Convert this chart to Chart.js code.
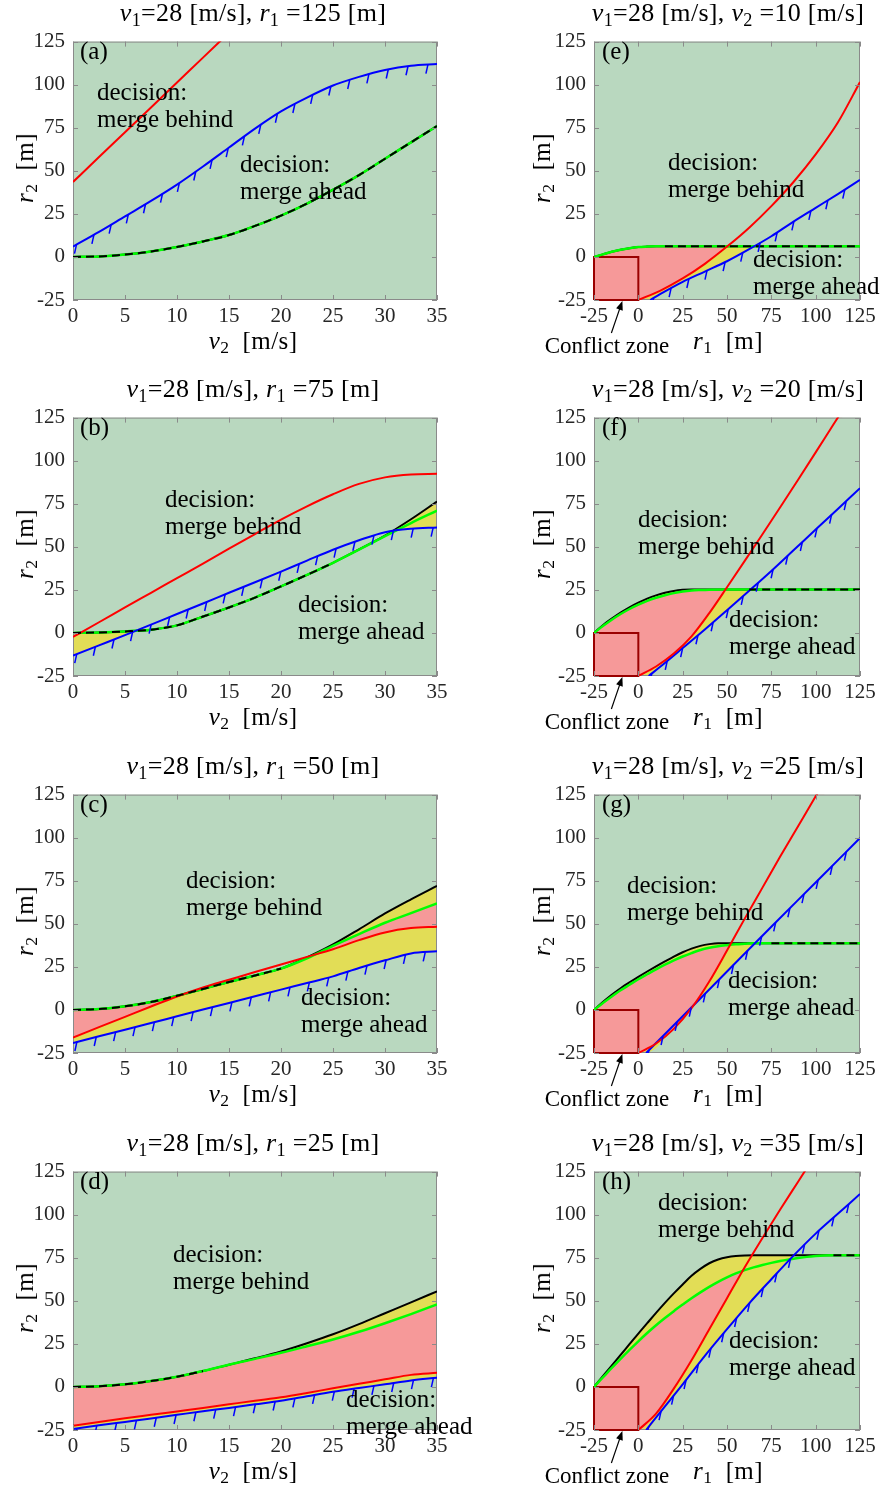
<!DOCTYPE html>
<html>
<head>
<meta charset="utf-8">
<script src="https://cdn.jsdelivr.net/npm/chart.js@4.4.1/dist/chart.umd.min.js"></script>
<style>
  body { margin: 0; background: #fff; }
  #page { position: relative; width: 884px; height: 1491px; overflow: hidden;
          font-family: 'Liberation Serif', 'Times New Roman', serif; color: #000; }
  canvas { position: absolute; }
  .t { position: absolute; white-space: nowrap; }
  .title { font-size: 26px; line-height: 26px; letter-spacing: 0.3px; }
  .xlab, .ylab { font-size: 25px; line-height: 26px; letter-spacing: 0.4px; }
  .ann, .letter { font-size: 25px; line-height: 27px; }
  .cz { font-size: 23px; line-height: 26px; }
  sub { font-size: 70%; vertical-align: -0.25em; line-height: 0; }
</style>
</head>
<body>
<div id="page"></div>
<script>
// ---- data -------------------------------------------------------------
const v1 = 28;
const r1Values = [125, 75, 50, 25];     // left column titles
const v2Values = [10, 20, 25, 35];      // right column titles
const v2Ticks = [0, 5, 10, 15, 20, 25, 30, 35];
const r1Ticks = [-25, 0, 25, 50, 75, 100, 125];
const r2Ticks = [-25, 0, 25, 50, 75, 100, 125];
const zoneR1 = [-25, 0];
const zoneR2 = [-25, 0];

// left column: r2 read at these v2 values
const v2Grid = [0, 2.5, 5, 7.5, 10, 12.5, 15, 17.5, 20, 22.5, 25, 27.5, 30, 32.5, 35];

const aRed   = [43.5, 58, 72.4, 86.8, 101.3, 115.7, 130.2];
const aBlue  = [6, 14.5, 23.5, 32.5, 42, 52.5, 63.5, 74.5, 84.5, 92.5, 99.5, 104.5, 108.5, 111, 112];
const aBlack = [0, 0.3, 1.4, 3.2, 5.8, 9, 12.7, 18, 24, 31, 39, 47.5, 57, 66.5, 76];
const aGreen = [0, 0.3, 1.4, 3.2, 5.8, 9, 12.7, 18, 24, 31, 39, 47.5, 57, 66.5, 76];

const bRed   = [-2.3, 6.2, 14.8, 23.3, 31.8, 40.3, 48.9, 57.4, 65.8, 73.5, 80.5, 86.5, 90.3, 92, 92.4];
const bBlue  = [-13.1, -7.2, -1.3, 4.8, 11, 17.1, 23.3, 29.4, 35.6, 42, 48.3, 53.8, 58.5, 60.5, 61.2];
const bBlack = [0, 0.3, 0.9, 1.9, 4.4, 9.5, 14.8, 20.5, 27, 33.7, 40.7, 48.5, 56.5, 66, 76.3];
const bGreen = [0, 0.3, 0.9, 1.9, 4.4, 9.5, 14.8, 20.5, 27, 33.7, 40.7, 48.3, 56.2, 63.8, 71];

const cRed   = [-16, -10, -4, 2, 7.8, 13, 17.5, 22, 26.4, 30.8, 35.2, 40.5, 45, 47.5, 48.3];
const cBlue  = [-19.2, -15.3, -11.5, -7.6, -3.7, 0.2, 4, 7.9, 11.8, 15.6, 19.5, 24.3, 28.8, 32.8, 34];
const cBlack = [0, 0.5, 2.1, 4.6, 8.2, 12.2, 16.2, 20, 24, 30.5, 38, 46.8, 56, 64.2, 72];
const cGreen = [0, 0.5, 2.1, 4.6, 8.2, 12.2, 16.2, 20, 24, 30, 37.2, 44, 50.6, 56.2, 61.9];

const dRed   = [-22.5, -20.3, -18.2, -16.2, -14.2, -12.2, -10.1, -8, -6, -3.5, -0.8, 1.8, 4.4, 7, 8.2];
const dBlue  = [-24.4, -22.3, -20.3, -18.3, -16.2, -14.1, -12.2, -10.1, -8, -5.4, -2.8, -0.6, 1.5, 3.8, 5.3];
const dBlack = [0, 0.4, 1.5, 3.4, 5.9, 9.2, 12.9, 16.6, 20.6, 25.4, 30.6, 36.5, 42.8, 49.1, 55.5];
const dGreen = [0, 0.4, 1.5, 3.4, 5.9, 9.2, 12.9, 16.3, 19.8, 23.6, 27.5, 32, 37, 42.3, 47.9];

// right column: [r1, r2] pairs
const eGreen = [[-25, 0], [-20, 1.5], [-15, 3], [-10, 4.2], [-5, 5.1], [0, 5.7], [5, 6], [10, 6.2], [15, 6.2], [50, 6.2], [87.5, 6.2], [125, 6.2]];
const eBlack = eGreen; // both curves coincide in (e)
const eRed   = [[0, -25], [12.5, -19.5], [25, -12.5], [37.5, -4], [50, 6], [62.5, 17], [75, 29.5], [87.5, 43.5], [100, 59.5], [112.5, 78], [125, 101.5]];
const eBlue  = [[6.7, -25], [12.5, -21.5], [25, -14.5], [37.5, -8.5], [50, -2.5], [62.5, 4.5], [75, 12], [87.5, 20.5], [100, 28.5], [112.5, 36.5], [125, 44.7]];

const fBlack = [[-25, 0], [-20, 4.5], [-15, 8.3], [-10, 11.8], [-5, 14.9], [0, 17.6], [5, 19.9], [10, 21.8], [15, 23.3], [20, 24.4], [25, 25], [30, 25.2], [40, 25.2], [62.5, 25.2], [87.5, 25.2], [125, 25.2]];
const fGreen = [[-25, 0], [-20, 4], [-15, 7.7], [-10, 11], [-5, 13.9], [0, 16.4], [5, 18.6], [10, 20.4], [15, 21.9], [20, 23.1], [25, 24], [30, 24.6], [35, 24.9], [40, 25.1], [50, 25.2], [87.5, 25.2], [125, 25.2]];
const fRed   = [[0, -25], [10, -19.5], [20, -12], [30, -2], [40, 11.5], [50, 26.5], [60, 41.8], [70, 57.3], [80, 73], [90, 88.8], [100, 104.8], [110, 121], [115, 129]];
const fBlue  = [[5.8, -25], [12.5, -19.5], [25, -8.8], [37.5, 2], [50, 13.2], [62.5, 24.5], [75, 36], [87.5, 48], [100, 60], [112.5, 72], [125, 84]];

const gBlack = [[-25, 0], [-20, 4.6], [-15, 8.8], [-10, 12.6], [-5, 16], [0, 19.2], [5, 22.3], [10, 25.3], [15, 28.2], [20, 31], [25, 33.5], [30, 35.6], [35, 37.2], [40, 38.2], [45, 38.7], [75, 38.7], [100, 38.7], [125, 38.7]];
const gGreen = [[-25, 0], [-20, 4], [-15, 7.8], [-10, 11.4], [-5, 14.6], [0, 17.8], [5, 20.7], [10, 23.6], [15, 26.3], [20, 28.8], [25, 31], [30, 33], [35, 34.8], [40, 36.1], [45, 37], [50, 37.6], [55, 38.1], [60, 38.4], [65, 38.7], [100, 38.7], [125, 38.7]];
const gRed   = [[0, -25], [10, -19.5], [20, -11], [30, 1], [40, 16.5], [50, 34.5], [60, 53], [70, 71], [80, 89], [90, 106.5], [100, 124], [105, 132.5]];
const gBlue  = [[4.4, -25], [25, -3.7], [50, 22.3], [75, 48.3], [100, 74], [125, 99.8]];

const hBlack = [[-25, 0], [-20, 6.2], [-15, 12.4], [-10, 18.6], [-5, 24.8], [0, 31], [5, 37], [10, 43], [15, 48.8], [20, 54.3], [25, 59.5], [30, 64.5], [35, 68.5], [40, 71.8], [45, 74], [50, 75.3], [55, 76], [60, 76.3], [65, 76.4], [100, 76.4], [110, 76.4], [125, 76.4]];
const hGreen = [[-25, 0], [-20, 5.5], [-15, 11], [-10, 16.3], [-5, 21.5], [0, 26.5], [5, 31.3], [10, 35.8], [15, 40], [20, 44], [25, 47.8], [30, 51.5], [35, 54.9], [40, 58.1], [45, 61], [50, 63.6], [55, 65.9], [60, 67.8], [65, 69.4], [70, 70.8], [75, 72], [80, 73.1], [85, 74], [90, 74.8], [95, 75.5], [100, 76], [105, 76.3], [110, 76.4], [125, 76.4]];
const hRed   = [[0, -25], [10, -15.5], [20, -1], [30, 15.5], [40, 33.5], [50, 51.5], [60, 69.5], [70, 86.5], [80, 103], [90, 119], [100, 135]];
const hBlue  = [[4.4, -25], [12.5, -14.5], [25, 1.5], [37.5, 18], [50, 33.5], [62.5, 48.5], [75, 62.5], [87.5, 76.2], [100, 89], [112.5, 100.5], [125, 112]];

// ---- styling ----------------------------------------------------------
const BG = 'rgb(185,216,191)';
const PINK = 'rgb(246,153,153)';
const YELLOW = 'rgb(226,221,86)';
const NONE = 'rgba(0,0,0,0)';
const TICK_FONT = {family: "'Liberation Serif', serif", size: 21};
const rowTops = [35, 411, 788, 1165];

const page = document.getElementById('page');

function fromGrid(ys) { return ys.map((y, i) => ({x: v2Grid[i], y: y})); }
function fromPairs(ps) { return ps.map(p => ({x: p[0], y: p[1]})); }

// green background of the plot box
const bgPlugin = {
  id: 'bg',
  beforeDraw(chart) {
    const a = chart.chartArea, ctx = chart.ctx;
    ctx.save();
    ctx.fillStyle = BG;
    ctx.fillRect(a.left, a.top, a.width, a.height);
    ctx.restore();
  }
};

// short hatch marks hanging under the blue boundary
const hatchPlugin = {
  id: 'hatch',
  afterDatasetsDraw(chart) {
    const ctx = chart.ctx, a = chart.chartArea;
    chart.data.datasets.forEach((ds, i) => {
      if (!ds.hatch) return;
      const pts = chart.getDatasetMeta(i).data.map(p => ({x: p.x, y: p.y}));
      ctx.save();
      ctx.beginPath();
      ctx.rect(a.left, a.top, a.width, a.height);
      ctx.clip();
      ctx.strokeStyle = ds.borderColor;
      ctx.lineWidth = 1.5;
      let next = 4, acc = 0;
      for (let k = 1; k < pts.length; k++) {
        const p0 = pts[k - 1], p1 = pts[k];
        const seg = Math.hypot(p1.x - p0.x, p1.y - p0.y);
        while (next <= acc + seg) {
          const t = (next - acc) / seg;
          const x = p0.x + t * (p1.x - p0.x), y = p0.y + t * (p1.y - p0.y);
          ctx.beginPath();
          ctx.moveTo(x, y);
          ctx.lineTo(x - 2, y + 9);
          ctx.stroke();
          next += 20;
        }
        acc += seg;
      }
      ctx.restore();
    });
  }
};

// box and inward ticks on all four sides
const framePlugin = {
  id: 'frame',
  afterDatasetsDraw(chart) {
    const ctx = chart.ctx, a = chart.chartArea, sx = chart.scales.x, sy = chart.scales.y;
    ctx.save();
    ctx.strokeStyle = '#8a8a8a';
    ctx.lineWidth = 1;
    ctx.beginPath();
    sx.ticks.forEach(t => {
      const x = Math.round(sx.getPixelForValue(t.value)) + 0.5;
      ctx.moveTo(x, a.top); ctx.lineTo(x, a.top + 5);
      ctx.moveTo(x, a.bottom); ctx.lineTo(x, a.bottom - 5);
    });
    sy.ticks.forEach(t => {
      const y = Math.round(sy.getPixelForValue(t.value)) + 0.5;
      ctx.moveTo(a.left, y); ctx.lineTo(a.left + 5, y);
      ctx.moveTo(a.right, y); ctx.lineTo(a.right - 5, y);
    });
    ctx.stroke();
    ctx.restore();
  },
  beforeDatasetsDraw(chart) {
    const ctx = chart.ctx, a = chart.chartArea;
    ctx.save();
    ctx.strokeStyle = '#8a8a8a';
    ctx.lineWidth = 1;
    ctx.strokeRect(a.left + 0.5, a.top + 0.5, a.width - 1, a.height - 1);
    ctx.restore();
  }
};

// arrow pointing at the conflict zone
const arrowPlugin = {
  id: 'arrow',
  afterDraw(chart, args, opts) {
    if (!opts || !opts.show) return;
    const ctx = chart.ctx;
    const x = chart.scales.x.getPixelForValue(opts.x);
    const y = chart.scales.y.getPixelForValue(opts.y) + 1;
    const x0 = x + opts.dx, y0 = y + opts.dy;
    const ang = Math.atan2(y - y0, x - x0);
    ctx.save();
    ctx.strokeStyle = '#000';
    ctx.fillStyle = '#000';
    ctx.lineWidth = 1.2;
    ctx.beginPath();
    ctx.moveTo(x0, y0);
    ctx.lineTo(x - 6 * Math.cos(ang), y - 6 * Math.sin(ang));
    ctx.stroke();
    ctx.beginPath();
    ctx.moveTo(x, y);
    ctx.lineTo(x - 9 * Math.cos(ang) + 3.5 * Math.sin(ang), y - 9 * Math.sin(ang) - 3.5 * Math.cos(ang));
    ctx.lineTo(x - 9 * Math.cos(ang) - 3.5 * Math.sin(ang), y - 9 * Math.sin(ang) + 3.5 * Math.cos(ang));
    ctx.closePath();
    ctx.fill();
    ctx.restore();
  }
};

function addText(html, left, top, cls, center, rotate) {
  const d = document.createElement('div');
  d.className = 't ' + cls;
  d.innerHTML = html;
  d.style.left = left + 'px';
  d.style.top = top + 'px';
  if (rotate) d.style.transform = 'translate(-50%, -50%) rotate(-90deg)';
  else if (center) d.style.transform = 'translateX(-50%)';
  page.appendChild(d);
}

function addPanel(p) {
  const right = p.col === 1;
  const top = rowTops[p.row];
  const W = right ? 364 : 452, H = 319;
  const cv = document.createElement('canvas');
  cv.width = W; cv.height = H;
  cv.style.left = (right ? 520 : 0) + 'px';
  cv.style.top = (top - 14) + 'px';
  page.appendChild(cv);

  const toPts = right ? fromPairs : fromGrid;
  const xTicks = right ? r1Ticks : v2Ticks;
  const red = toPts(p.red), blue = toPts(p.blue), green = toPts(p.green), black = toPts(p.black);
  const dash = black.filter(q => q.x >= p.dash[0] && q.x <= p.dash[1]);
  const floor = {x: xTicks[0], y: r2Ticks[0]};
  const redBound = right ? [floor].concat(red) : red;
  const blueBound = right ? [floor].concat(blue) : blue;

  const curve = {pointRadius: 0, pointHoverRadius: 0, fill: false, cubicInterpolationMode: 'monotone'};
  const ds = [];
  ds.push(Object.assign({}, curve, {label: 'black dashed', data: dash, borderColor: '#000', borderWidth: 2, borderDash: [8, 5], order: 0}));
  ds.push(Object.assign({}, curve, {label: 'red', data: red, borderColor: '#ff0000', borderWidth: 2, order: 1}));
  ds.push(Object.assign({}, curve, {label: 'blue', data: blue, borderColor: '#0000ff', borderWidth: 2, order: 2, hatch: true}));
  ds.push(Object.assign({}, curve, {label: 'green', data: green, borderColor: '#00ff00', borderWidth: 2.5, order: 3}));
  ds.push(Object.assign({}, curve, {label: 'black', data: black, borderColor: '#000', borderWidth: 2, order: 4}));
  if (right) {
    const zone = [
      {x: zoneR1[0], y: zoneR2[0]}, {x: zoneR1[0], y: zoneR2[1]},
      {x: zoneR1[1], y: zoneR2[1]}, {x: zoneR1[1], y: zoneR2[0]},
      {x: zoneR1[0], y: zoneR2[0]}
    ];
    ds.push({label: 'conflict zone', data: zone, borderColor: '#9a0000', borderWidth: 2,
             backgroundColor: PINK, fill: 'shape', tension: 0, pointRadius: 0, order: 5, clip: 3});
  }
  const redIdx = ds.length + 2, blueIdx = ds.length + 3;
  ds.push(Object.assign({}, curve, {label: 'pink', data: green, borderColor: NONE, borderWidth: 1,
           fill: {target: redIdx, above: PINK, below: NONE}, order: 6}));
  ds.push(Object.assign({}, curve, {label: 'yellow', data: black, borderColor: NONE, borderWidth: 1,
           fill: {target: blueIdx, above: YELLOW, below: NONE}, order: 7}));
  ds.push(Object.assign({}, curve, {label: 'red bound', data: redBound, borderColor: NONE, borderWidth: 1, order: 8}));
  ds.push(Object.assign({}, curve, {label: 'blue bound', data: blueBound, borderColor: NONE, borderWidth: 1, order: 9}));

  new Chart(cv, {
    type: 'line',
    data: {datasets: ds},
    options: {
      responsive: false,
      animation: false,
      events: [],
      layout: {autoPadding: false, padding: {top: 14, right: right ? 24 : 15, bottom: 10, left: 0}},
      plugins: {
        legend: {display: false},
        tooltip: {enabled: false},
        filler: {drawTime: 'beforeDatasetsDraw'},
        arrow: {show: right, x: -9, y: r2Ticks[0], dx: -11, dy: 32}
      },
      scales: {
        x: {
          type: 'linear',
          min: xTicks[0], max: xTicks[xTicks.length - 1],
          ticks: {stepSize: xTicks[1] - xTicks[0], font: TICK_FONT, color: '#262626', padding: 4, maxRotation: 0},
          grid: {display: false, drawTicks: false},
          border: {display: false},
          afterFit(s) { s.height = 30; }
        },
        y: {
          type: 'linear',
          min: r2Ticks[0], max: r2Ticks[r2Ticks.length - 1],
          ticks: {stepSize: r2Ticks[1] - r2Ticks[0], font: TICK_FONT, color: '#262626', padding: 8},
          grid: {display: false, drawTicks: false},
          border: {display: false},
          afterFit(s) { s.width = right ? 74 : 73; }
        }
      }
    },
    plugins: [bgPlugin, hatchPlugin, framePlugin, arrowPlugin]
  });

  // texts
  const cx = right ? 728 : 253;
  addText(p.title, cx, top - 35, 'title', true);
  addText(right ? '<i>r</i><sub>1</sub>&nbsp;&nbsp;[m]' : '<i>v</i><sub>2</sub>&nbsp;&nbsp;[m/s]', cx, top + 293, 'xlab', true);
  addText('<i>r</i><sub>2</sub>&nbsp;&nbsp;[m]', right ? 542 : 25, top + 133, 'ylab', false, true);
  addText('(' + p.letter + ')', right ? 602 : 80, top + 2, 'letter');
  addText('decision:<br>merge behind', p.behindAt[0], p.behindAt[1], 'ann');
  addText('decision:<br>merge ahead', p.aheadAt[0], p.aheadAt[1], 'ann');
  if (right) addText('Conflict zone', 607, top + 298, 'cz', true);
}

const leftTitle = r => '<i>v</i><sub>1</sub>=' + v1 + ' [m/s], <i>r</i><sub>1</sub> =' + r + ' [m]';
const rightTitle = v => '<i>v</i><sub>1</sub>=' + v1 + ' [m/s], <i>v</i><sub>2</sub> =' + v + ' [m/s]';

const panels = [
  {letter: 'a', row: 0, col: 0, title: leftTitle(r1Values[0]), red: aRed, blue: aBlue, black: aBlack, green: aGreen, dash: [0, 35], behindAt: [97, 78], aheadAt: [240, 150]},
  {letter: 'b', row: 1, col: 0, title: leftTitle(r1Values[1]), red: bRed, blue: bBlue, black: bBlack, green: bGreen, dash: [0, 25], behindAt: [165, 485], aheadAt: [298, 590]},
  {letter: 'c', row: 2, col: 0, title: leftTitle(r1Values[2]), red: cRed, blue: cBlue, black: cBlack, green: cGreen, dash: [0, 20], behindAt: [186, 866], aheadAt: [301, 983]},
  {letter: 'd', row: 3, col: 0, title: leftTitle(r1Values[3]), red: dRed, blue: dBlue, black: dBlack, green: dGreen, dash: [0, 12.5], behindAt: [173, 1240], aheadAt: [346, 1385]},
  {letter: 'e', row: 0, col: 1, title: rightTitle(v2Values[0]), red: eRed, blue: eBlue, black: eBlack, green: eGreen, dash: [15, 125], behindAt: [668, 148], aheadAt: [753, 245]},
  {letter: 'f', row: 1, col: 1, title: rightTitle(v2Values[1]), red: fRed, blue: fBlue, black: fBlack, green: fGreen, dash: [55, 125], behindAt: [638, 505], aheadAt: [729, 605]},
  {letter: 'g', row: 2, col: 1, title: rightTitle(v2Values[2]), red: gRed, blue: gBlue, black: gBlack, green: gGreen, dash: [75, 125], behindAt: [627, 871], aheadAt: [728, 966]},
  {letter: 'h', row: 3, col: 1, title: rightTitle(v2Values[3]), red: hRed, blue: hBlue, black: hBlack, green: hGreen, dash: [110, 125], behindAt: [658, 1188], aheadAt: [729, 1326]}
];

panels.forEach(addPanel);
</script>
</body>
</html>
